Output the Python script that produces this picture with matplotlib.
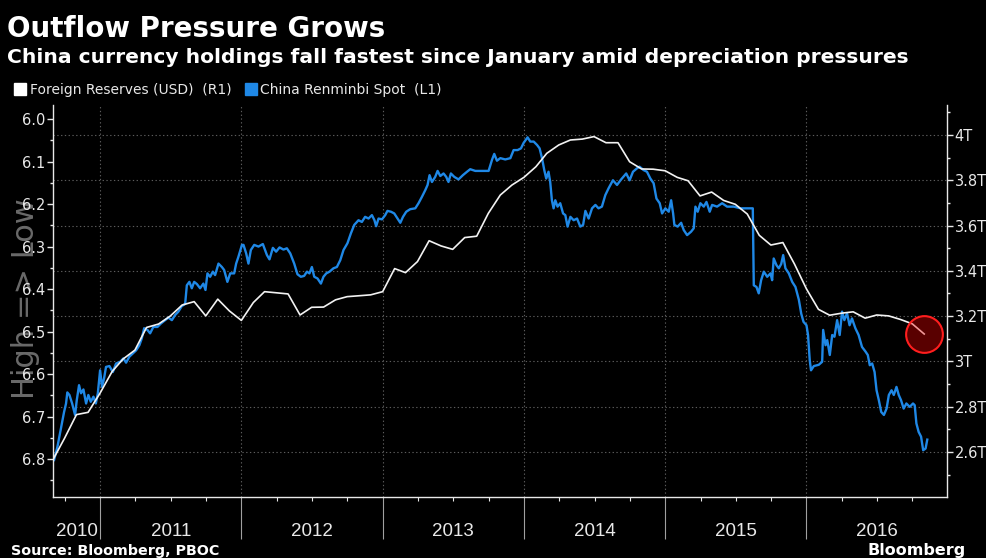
import matplotlib
matplotlib.use("Agg")
import matplotlib.pyplot as plt
import matplotlib.transforms as mtransforms
import numpy as np
import pandas as pd
from matplotlib.lines import Line2D
from matplotlib.ticker import MultipleLocator, FixedLocator, FuncFormatter

# USD/CNY spot: decimal year, CNY per USD
cny_t = [
    2010.674, 2010.698, 2010.729, 2010.745, 2010.759, 2010.768, 2010.783, 2010.802,
    2010.823, 2010.835, 2010.851, 2010.865, 2010.882, 2010.901, 2010.917, 2010.934,
    2010.953, 2010.970, 2010.984, 2011.000, 2011.014, 2011.028, 2011.042, 2011.066,
    2011.090, 2011.113, 2011.142, 2011.165, 2011.184, 2011.207, 2011.232, 2011.255,
    2011.278, 2011.295, 2011.312, 2011.335, 2011.354, 2011.377, 2011.406, 2011.430,
    2011.460, 2011.484, 2011.508, 2011.531, 2011.554, 2011.578, 2011.602, 2011.614,
    2011.632, 2011.649, 2011.666, 2011.685, 2011.708, 2011.731, 2011.746, 2011.760,
    2011.779, 2011.798, 2011.814, 2011.838, 2011.862, 2011.878, 2011.901, 2011.921,
    2011.949, 2011.963, 2011.979, 2012.004, 2012.015, 2012.034, 2012.050, 2012.067,
    2012.091, 2012.121, 2012.152, 2012.181, 2012.199, 2012.223, 2012.246, 2012.270,
    2012.298, 2012.322, 2012.346, 2012.374, 2012.397, 2012.421, 2012.444, 2012.464,
    2012.482, 2012.499, 2012.516, 2012.539, 2012.563, 2012.581, 2012.601, 2012.624,
    2012.652, 2012.676, 2012.700, 2012.723, 2012.751, 2012.775, 2012.799, 2012.829,
    2012.853, 2012.876, 2012.900, 2012.924, 2012.942, 2012.954, 2012.971, 2012.995,
    2013.018, 2013.034, 2013.059, 2013.082, 2013.105, 2013.125, 2013.144, 2013.167,
    2013.195, 2013.231, 2013.254, 2013.278, 2013.302, 2013.318, 2013.332, 2013.349,
    2013.372, 2013.389, 2013.408, 2013.431, 2013.450, 2013.466, 2013.483, 2013.507,
    2013.537, 2013.568, 2013.597, 2013.620, 2013.656, 2013.703, 2013.750, 2013.774,
    2013.790, 2013.809, 2013.833, 2013.868, 2013.904, 2013.927, 2013.955, 2013.979,
    2013.998, 2014.026, 2014.045, 2014.069, 2014.093, 2014.111, 2014.128, 2014.144,
    2014.158, 2014.174, 2014.186, 2014.198, 2014.210, 2014.222, 2014.238, 2014.257,
    2014.277, 2014.293, 2014.309, 2014.329, 2014.352, 2014.376, 2014.399, 2014.419,
    2014.435, 2014.458, 2014.482, 2014.506, 2014.528, 2014.552, 2014.576, 2014.599,
    2014.630, 2014.659, 2014.688, 2014.724, 2014.748, 2014.772, 2014.800, 2014.818,
    2014.847, 2014.871, 2014.895, 2014.918, 2014.938, 2014.961, 2014.978, 2015.001,
    2015.025, 2015.042, 2015.056, 2015.065, 2015.088, 2015.113, 2015.131, 2015.155,
    2015.183, 2015.202, 2015.214, 2015.230, 2015.249, 2015.273, 2015.292, 2015.315,
    2015.332, 2015.367, 2015.403, 2015.438, 2015.485, 2015.533, 2015.580, 2015.620,
    2015.627, 2015.646, 2015.662, 2015.679, 2015.698, 2015.722, 2015.745, 2015.757,
    2015.768, 2015.788, 2015.804, 2015.821, 2015.835, 2015.851, 2015.875, 2015.899,
    2015.922, 2015.946, 2015.963, 2015.979, 2016.000, 2016.011, 2016.023, 2016.032,
    2016.052, 2016.087, 2016.111, 2016.118, 2016.135, 2016.147, 2016.165, 2016.182,
    2016.198, 2016.217, 2016.235, 2016.252, 2016.268, 2016.287, 2016.305, 2016.322,
    2016.346, 2016.369, 2016.393, 2016.418, 2016.434, 2016.448, 2016.465, 2016.482,
    2016.496, 2016.512, 2016.529, 2016.548, 2016.567, 2016.583, 2016.602, 2016.618,
    2016.637, 2016.653, 2016.669, 2016.688, 2016.707, 2016.731, 2016.754, 2016.766,
    2016.778, 2016.794, 2016.811, 2016.826, 2016.843, 2016.855,
]
cny_v = [
    6.802, 6.771, 6.716, 6.689, 6.669, 6.643, 6.649, 6.669,
    6.696, 6.661, 6.626, 6.645, 6.636, 6.669, 6.649, 6.665,
    6.653, 6.669, 6.645, 6.591, 6.630, 6.610, 6.583, 6.581,
    6.595, 6.575, 6.571, 6.563, 6.573, 6.559, 6.551, 6.544,
    6.532, 6.516, 6.492, 6.496, 6.504, 6.489, 6.489, 6.481,
    6.473, 6.467, 6.473, 6.461, 6.453, 6.440, 6.435, 6.391,
    6.383, 6.398, 6.383, 6.388, 6.398, 6.387, 6.402, 6.363,
    6.371, 6.359, 6.367, 6.340, 6.348, 6.355, 6.383, 6.363,
    6.363, 6.340, 6.324, 6.296, 6.296, 6.316, 6.340, 6.308,
    6.296, 6.300, 6.294, 6.320, 6.330, 6.303, 6.312, 6.302,
    6.307, 6.304, 6.316, 6.340, 6.365, 6.371, 6.369, 6.359,
    6.363, 6.348, 6.371, 6.375, 6.387, 6.371, 6.363, 6.359,
    6.351, 6.348, 6.332, 6.308, 6.292, 6.269, 6.249, 6.238,
    6.242, 6.230, 6.234, 6.226, 6.238, 6.252, 6.234, 6.236,
    6.226, 6.216, 6.218, 6.222, 6.234, 6.244, 6.230, 6.218,
    6.212, 6.210, 6.198, 6.183, 6.167, 6.155, 6.132, 6.148,
    6.136, 6.122, 6.134, 6.128, 6.136, 6.148, 6.128, 6.136,
    6.142, 6.132, 6.124, 6.118, 6.122, 6.122, 6.122, 6.096,
    6.082, 6.098, 6.092, 6.095, 6.092, 6.073, 6.073, 6.069,
    6.056, 6.043, 6.053, 6.053, 6.061, 6.069, 6.092, 6.120,
    6.140, 6.124, 6.148, 6.191, 6.210, 6.191, 6.206, 6.198,
    6.222, 6.226, 6.253, 6.230, 6.238, 6.234, 6.253, 6.249,
    6.216, 6.234, 6.210, 6.202, 6.210, 6.206, 6.179, 6.163,
    6.144, 6.155, 6.142, 6.128, 6.144, 6.124, 6.116, 6.112,
    6.120, 6.124, 6.140, 6.151, 6.187, 6.198, 6.222, 6.210,
    6.218, 6.191, 6.222, 6.249, 6.253, 6.244, 6.261, 6.273,
    6.265, 6.257, 6.206, 6.218, 6.198, 6.206, 6.195, 6.218,
    6.202, 6.206, 6.198, 6.206, 6.206, 6.210, 6.210, 6.210,
    6.391, 6.395, 6.410, 6.379, 6.359, 6.371, 6.363, 6.379,
    6.328, 6.344, 6.351, 6.341, 6.320, 6.351, 6.363, 6.383,
    6.395, 6.425, 6.458, 6.477, 6.485, 6.508, 6.567, 6.591,
    6.581, 6.578, 6.571, 6.496, 6.532, 6.520, 6.555, 6.508,
    6.512, 6.473, 6.508, 6.453, 6.473, 6.457, 6.485, 6.469,
    6.492, 6.508, 6.536, 6.547, 6.555, 6.579, 6.575, 6.595,
    6.638, 6.661, 6.689, 6.696, 6.681, 6.649, 6.638, 6.649,
    6.630, 6.649, 6.661, 6.681, 6.669, 6.677, 6.669, 6.673,
    6.716, 6.736, 6.747, 6.779, 6.775, 6.754,
]

# PBOC foreign reserves, month-end from Aug 2010, trillions of USD
res_start = "2010-08"
res_vals = [
    2.565, 2.66, 2.765, 2.775, 2.86,
    2.955, 3.01, 3.05, 3.15, 3.165, 3.20, 3.249, 3.264, 3.201, 3.275, 3.223, 3.181,
    3.26, 3.308, 3.303, 3.298, 3.205, 3.239, 3.24, 3.272, 3.286, 3.29, 3.294, 3.308,
    3.41, 3.392, 3.441, 3.533, 3.51, 3.495, 3.547, 3.553, 3.654, 3.735, 3.779, 3.813,
    3.86, 3.919, 3.956, 3.978, 3.982, 3.993, 3.966, 3.966, 3.882, 3.85, 3.849, 3.842,
    3.813, 3.798, 3.731, 3.748, 3.711, 3.694, 3.651, 3.557, 3.514, 3.525, 3.43, 3.32,
    3.23, 3.204, 3.213, 3.219, 3.191, 3.205, 3.201, 3.185, 3.166, 3.121,
]

years = [2010, 2011, 2012, 2013, 2014, 2015, 2016]
cny_ticks = [6.0, 6.1, 6.2, 6.3, 6.4, 6.5, 6.6, 6.7, 6.8]
res_ticks = [2.6, 2.8, 3.0, 3.2, 3.4, 3.6, 3.8, 4.0]

BG = "black"
FG = "#e8e8e8"
BLUE = "#1f88e6"
GRID = "#5c5c5c"
NARROW = ["Liberation Sans Narrow", "Liberation Sans", "DejaVu Sans"]

res_dates = pd.date_range(res_start, periods=len(res_vals), freq="ME")
res_t = res_dates.year + res_dates.dayofyear / np.where(res_dates.is_leap_year, 366, 365)

xlim = (2010.667, 2016.995)
ylim_l = (6.889, 5.967)
ylim_r = (2.401, 4.1325)

fig = plt.figure(figsize=(9.86, 5.58), dpi=100, facecolor=BG)
ax = fig.add_axes([0.0538, 0.1093, 0.9067, 0.7025])
ax.set_facecolor(BG)
ax2 = ax.twinx()

ax.set_xlim(*xlim)
ax.set_ylim(*ylim_l)
ax2.set_ylim(*ylim_r)

# horizontal grid follows the right-hand axis, drawn on the lower axes so it sits under the lines
scale = (ylim_l[1] - ylim_l[0]) / (ylim_r[1] - ylim_r[0])
for t in res_ticks:
    ax.axhline(ylim_l[0] + (t - ylim_r[0]) * scale, color=GRID, lw=0.8,
               ls=(0, (1.2, 2.2)), zorder=0.5)
ax.xaxis.set_major_locator(MultipleLocator(1))
ax.xaxis.set_minor_locator(MultipleLocator(0.25))
ax.grid(axis="x", which="major", color=GRID, lw=0.8, ls=(0, (1.2, 2.2)))

ax.plot(cny_t, cny_v, color=BLUE, lw=1.7, zorder=2)
ax2.plot(res_t, res_vals, color="#f2f2f2", lw=1.2, zorder=2)
ax2.scatter([res_t[-1]], [res_vals[-1]], s=700, facecolor=(0.95, 0.0, 0.0, 0.37),
            edgecolor="#ff1e1e", linewidth=1.5, zorder=5, clip_on=False)

# axes, ticks
for a in (ax, ax2):
    for s in a.spines.values():
        s.set_color(FG)
        s.set_linewidth(1.0)
    a.spines["top"].set_visible(False)
ax.spines["right"].set_visible(False)
ax2.spines["left"].set_visible(False)
ax2.spines["bottom"].set_visible(False)

ax.yaxis.set_major_locator(FixedLocator(cny_ticks))
ax.yaxis.set_minor_locator(MultipleLocator(0.05))
ax.yaxis.set_major_formatter(FuncFormatter(lambda v, p: f"{v:.1f}"))
ax.tick_params(axis="y", which="major", direction="out", length=4, width=1,
               colors=FG, labelsize=10.5, pad=1.5)
ax.tick_params(axis="y", which="minor", direction="out", length=2.5, width=1, colors=FG)
ax.tick_params(axis="x", which="major", direction="out", length=30, width=0.8,
               color="#a0a0a0", labelbottom=False)
ax.tick_params(axis="x", which="minor", direction="out", length=3, width=0.8, color=FG)

ax2.yaxis.set_major_locator(FixedLocator(res_ticks))
ax2.yaxis.set_minor_locator(MultipleLocator(0.1))
ax2.yaxis.set_major_formatter(FuncFormatter(lambda v, p: f"{v:g}T"))
ax2.tick_params(axis="y", which="major", direction="out", length=4, width=1,
                colors=FG, labelsize=10.5, pad=1.5)
ax2.tick_params(axis="y", which="minor", direction="out", length=2.5, width=1, colors=FG)

# year labels centred in each (visible) year
trans = mtransforms.blended_transform_factory(ax.transData, ax.transAxes)
for y in years:
    lo, hi = max(y, xlim[0]), min(y + 1, xlim[1])
    ax.text((lo + hi) / 2, -0.0995, str(y), transform=trans, ha="center", va="baseline",
            fontsize=13.5, family=NARROW, color=FG)

# header, legend, footer
fig.text(0.007, 1 - 37 / 558, "Outflow Pressure Grows", fontsize=20, weight="bold",
         color="white", va="baseline")
fig.text(0.007, 1 - 63 / 558,
         "China currency holdings fall fastest since January amid depreciation pressures",
         fontsize=14.6, weight="bold", color="white", va="baseline")

handles = [Line2D([], [], marker="s", ls="none", color="white", markersize=8),
           Line2D([], [], marker="s", ls="none", color=BLUE, markersize=8)]
fig.legend(handles, ["Foreign Reserves (USD)  (R1)", "China Renminbi Spot  (L1)"],
           loc="center left", bbox_to_anchor=(0.0152, 1 - 90 / 558), ncol=2, frameon=False,
           fontsize=10, labelcolor=FG, handlelength=0.75, handletextpad=0.3,
           columnspacing=1.05, borderpad=0, borderaxespad=0)

fig.text(26 / 986, 1 - 299 / 558, "High => Low", rotation=90, fontsize=22, color="#6a6a6a",
         ha="center", va="center", zorder=-1)

fig.text(0.011, 0.006, "Source: Bloomberg, PBOC", fontsize=10.3, weight="bold",
         color="white", va="baseline")
fig.text(0.979, 0.006, "Bloomberg", fontsize=11.5, weight="bold", color="white",
         ha="right", va="baseline")

fig.savefig("out.png", dpi=100, facecolor=BG)
